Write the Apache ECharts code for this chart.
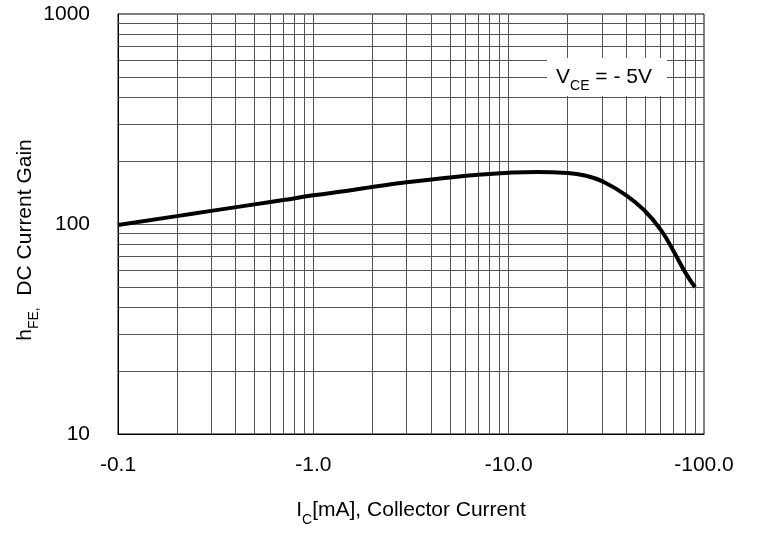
<!DOCTYPE html>
<html>
<head>
<meta charset="utf-8">
<script src="https://cdn.jsdelivr.net/npm/echarts@6/dist/echarts.min.js"></script>
<style>html,body{margin:0;padding:0;background:#fff;}#c{width:758px;height:535px;}</style>
</head>
<body>
<div id="c"></div>
<script>
// Collector current magnitude (mA) and DC current gain
var currentMA = [0.1, 0.2, 0.3, 0.5, 0.7, 1, 1.5, 2, 3, 5, 7, 10, 14, 20, 25, 30, 40, 50, 60, 70, 80, 90];
var hFE =       [99, 109, 115.5, 124, 130, 137, 144, 150, 158, 166.5, 171.5, 175.5, 177, 175, 169.5, 160, 137, 115, 94, 74, 59, 50];
// Minor grid values
var minorX = [0.2,0.3,0.4,0.5,0.6,0.7,0.8,0.9, 2,3,4,5,6,7,8,9, 20,30,40,50,60,70,80,90];
var minorY = [20,30,40,50,60,70,80,90, 200,300,400,500,600,700,800,900];

var FONT = 'Liberation Sans, Arial, sans-serif';
var chart = echarts.init(document.getElementById('c'), null, {renderer: 'canvas'});

var gridColor = '#555';
var mlData = [];
minorX.forEach(function (v) { mlData.push({xAxis: v}); });
minorY.forEach(function (v) { mlData.push({yAxis: v}); });

var richMain = {
  m: {fontSize: 21, fontFamily: FONT, fill: '#000', color: '#000'},
  s: {fontSize: 14, fontFamily: FONT, fill: '#000', color: '#000', verticalAlign: 'bottom', padding: [0,0,-6,0]}
};

chart.setOption({
  animation: false,
  grid: {left: 118, right: 54, top: 14, bottom: 101, containLabel: false, outerBoundsMode: 'none',
    show: true, borderColor: '#000', borderWidth: 1, backgroundColor: 'transparent'},
  xAxis: {
    type: 'log', logBase: 10, min: 0.1, max: 100,
    axisLine: {show: true, lineStyle: {color: '#000', width: 1}},
    axisTick: {show: false},
    axisLabel: {fontSize: 21, color: '#000', fontFamily: FONT, margin: 21,
      formatter: function (v) { return '-' + Number(v).toFixed(1); }},
    splitLine: {show: true, showMinLine: false, showMaxLine: false, lineStyle: {color: gridColor, width: 1}},
    name: '{m|I}{s|C}{m|[mA], Collector Current}',
    nameLocation: 'middle', nameGap: 66,
    nameTextStyle: {rich: richMain}
  },
  yAxis: {
    type: 'log', logBase: 10, min: 10, max: 1000,
    axisLine: {show: true, lineStyle: {color: '#000', width: 1}},
    axisTick: {show: false},
    axisLabel: {fontSize: 21, color: '#000', fontFamily: FONT, margin: 28,
      formatter: function (v) { return String(Math.round(v)); }},
    splitLine: {show: true, showMinLine: false, showMaxLine: false, lineStyle: {color: gridColor, width: 1}}
  },
  series: [{
    type: 'line',
    data: currentMA.map(function (x, i) { return [x, hFE[i]]; }),
    showSymbol: false,
    smooth: 0.5,
    lineStyle: {color: '#000', width: 4},
    z: 5,
    markLine: {
      silent: true, symbol: 'none', animation: false,
      label: {show: false},
      lineStyle: {color: gridColor, width: 1, type: 'solid'},
      emphasis: {disabled: true},
      data: mlData
    }
  }],
  graphic: [
    {type: 'text', z: 100, x: 25, y: 240, rotation: Math.PI / 2, style: {
      text: '{m|h}{s|FE,}{m|  DC Current Gain}', align: 'center', verticalAlign: 'middle',
      rich: richMain
    }},
    {type: 'rect', z: 100, shape: {x: 547, y: 58, width: 120, height: 38}, style: {fill: '#fff'}},
    {type: 'text', z: 101, x: 604, y: 77, style: {
      text: '{m|V}{s|CE}{m| = - 5V}', align: 'center', verticalAlign: 'middle',
      rich: richMain
    }}
  ]
});
</script>
</body>
</html>
